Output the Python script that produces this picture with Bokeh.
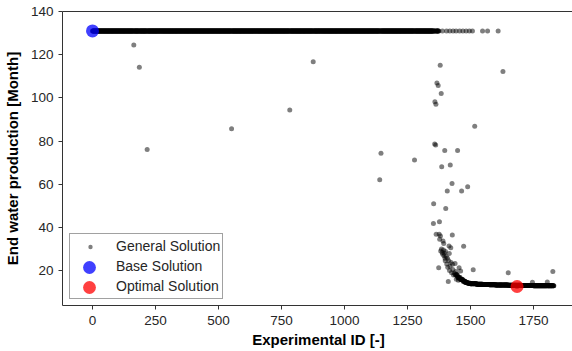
import numpy as np
from bokeh.plotting import figure
from bokeh.models import ColumnDataSource, Legend, LegendItem, LinearAxis, FixedTicker, Range1d
from bokeh.embed import file_html
from bokeh.resources import INLINE

# ---------------- data ----------------
# plateau of experiments that all end at ~131 months
plateau_first_id = 1
plateau_last_id = 1375
plateau_value = 131.0

# sparse experiments beyond the plateau that still sit at 131
top_sparse_ids = [1389, 1405, 1418, 1431, 1443, 1457, 1470, 1483, 1496, 1508, 1548, 1568, 1610]

# low "floor" of converged experiments (block start id -> value)
floor_block_starts = [1440, 1450, 1460, 1470, 1480, 1490, 1500, 1525, 1550, 1575, 1600, 1650, 1700, 1750, 1800]
floor_block_values = [18.0, 16.8, 15.8, 15.0, 14.5, 14.1, 13.9, 13.7, 13.5, 13.4, 13.3, 13.2, 13.1, 13.0, 13.0]
floor_last_id = 1831

# individually readable scattered experiments
scatter_ids = [164, 186, 217, 552, 783, 876, 1140, 1145, 1278,
               1380, 1629, 1367, 1372, 1384, 1359, 1363, 1517, 1358, 1362, 1398, 1449,
               1386, 1420, 1427, 1408, 1465, 1489, 1354, 1402, 1353, 1377,
               1364, 1376, 1381, 1428, 1378, 1391, 1394, 1473, 1415, 1422, 1382, 1388,
               1401, 1416, 1395, 1399, 1409, 1414, 1400, 1423, 1429, 1439, 1455, 1374,
               1417, 1461, 1511, 1433, 1447, 1456, 1412, 1650, 1827, 1746, 1805,
               1385, 1390, 1393, 1397, 1404, 1406, 1410, 1419, 1425, 1430, 1436, 1442,
               1444, 1452]
scatter_values = [124.5, 114.2, 76.1, 85.7, 94.4, 116.7, 62.0, 74.3, 71.2,
                  115.1, 112.2, 106.9, 105.7, 102.0, 98.2, 97.0, 86.8, 78.6, 78.1, 75.6, 75.6,
                  68.1, 68.9, 60.3, 56.9, 56.9, 58.8, 50.9, 48.7, 41.8, 42.6,
                  36.8, 36.8, 36.0, 36.5, 34.5, 33.7, 32.5, 31.3, 31.4, 30.6, 29.1, 28.3,
                  28.8, 27.9, 26.8, 25.7, 25.7, 24.5, 24.5, 23.7, 22.9, 23.2, 21.3, 21.3,
                  20.0, 19.8, 20.4, 17.9, 17.5, 16.4, 14.9, 19.0, 19.5, 14.6, 14.7,
                  30.0, 27.5, 29.5, 28.0, 26.5, 23.0, 21.5, 22.0, 19.0, 20.5, 18.8, 19.5,
                  16.0, 15.5]

base_id, base_value = 0, 131.0
optimal_id, optimal_value = 1685, 12.6

x_ticks = [0, 250, 500, 750, 1000, 1250, 1500, 1750]
y_ticks = [20, 40, 60, 80, 100, 120, 140]

# ---------------- assemble general solutions ----------------
vals = {}
for i in range(plateau_first_id, plateau_last_id + 1):
    vals[i] = plateau_value
bounds = floor_block_starts + [floor_last_id + 1]
for k, v in enumerate(floor_block_values):
    for i in range(bounds[k], bounds[k + 1]):
        vals[i] = v
for i in top_sparse_ids:
    vals[i] = plateau_value
for i, v in zip(scatter_ids, scatter_values):
    vals[i] = v
vals[base_id] = base_value
vals[optimal_id] = optimal_value
ids = sorted(vals)
gen_src = ColumnDataSource(dict(x=ids, y=[vals[i] for i in ids]))

FONT = "Liberation Sans"

p = figure(frame_width=512, frame_height=294, output_backend="svg", toolbar_location=None,
           x_range=Range1d(-119, 1913), y_range=Range1d(3.8, 140),
           min_border_left=60, min_border_right=0, min_border_top=11, min_border_bottom=46)
p.outline_line_color = None
p.grid.visible = False
p.background_fill_color = "white"
p.border_fill_color = "white"

r_gen = p.scatter("x", "y", source=gen_src, size=5, fill_color="black", fill_alpha=0.5, line_color=None)
r_base = p.scatter([base_id], [base_value], size=13, fill_color="blue", fill_alpha=0.75, line_color=None)
r_opt = p.scatter([optimal_id], [optimal_value], size=13, fill_color="red", fill_alpha=0.75, line_color=None)
# invisible stand-ins so the main legend rows carry only the labels
r_base_lbl = p.scatter([base_id], [base_value], size=1, fill_alpha=0, line_color=None)
r_opt_lbl = p.scatter([optimal_id], [optimal_value], size=1, fill_alpha=0, line_color=None)

for ax in (p.xaxis[0], p.yaxis[0]):
    ax.axis_line_color = "#333333"
    ax.major_tick_line_color = "#333333"
    ax.major_tick_out = 4
    ax.major_tick_in = 0
    ax.minor_tick_line_color = None
    ax.major_label_text_font = FONT
    ax.major_label_text_font_size = "13.5px"
    ax.major_label_text_color = "#262626"
    ax.major_label_standoff = 5
    ax.axis_label_text_font = FONT
    ax.axis_label_text_font_size = "15px"
    ax.axis_label_text_font_style = "bold"
    ax.axis_label_text_color = "black"

p.xaxis[0].ticker = FixedTicker(ticks=x_ticks)
p.yaxis[0].ticker = FixedTicker(ticks=y_ticks)
p.xaxis[0].axis_label = "Experimental ID [-]"
p.yaxis[0].axis_label = "End water production [Month]"
p.xaxis[0].major_label_standoff = 6
p.xaxis[0].axis_label_standoff = 3
p.yaxis[0].axis_label_standoff = 7

top = LinearAxis(ticker=FixedTicker(ticks=[]), major_label_text_font_size="0px",
                 major_tick_line_color=None, minor_tick_line_color=None,
                 axis_line_color="#333333")
p.add_layout(top, "above")

# main legend box (labels + small general-solution dot)
legend = Legend(items=[LegendItem(label="General Solution", renderers=[r_gen]),
                       LegendItem(label="Base Solution", renderers=[r_base_lbl]),
                       LegendItem(label="Optimal Solution", renderers=[r_opt_lbl])],
                location=(7, 6), margin=0, padding=2, spacing=0,
                glyph_width=36, glyph_height=11, label_height=20, label_standoff=8,
                label_text_font=FONT, label_text_font_size="14px", label_text_color="#262626",
                border_line_color="#444444", border_line_width=1, background_fill_alpha=1)
p.add_layout(legend)

# larger legend markers for base / optimal drawn on top of the main legend rows
for rend, ybot in ((r_base, 22), (r_opt, 2)):
    ov = Legend(items=[LegendItem(label=" ", renderers=[rend])],
                location=(11, ybot), margin=0, padding=0, spacing=0,
                glyph_width=32, glyph_height=32, label_height=32, label_width=0, label_standoff=0,
                label_text_font_size="1px", border_line_color=None,
                background_fill_alpha=0, inactive_fill_alpha=0)
    p.add_layout(ov)

open("out.html", "w").write(file_html(p, INLINE))
